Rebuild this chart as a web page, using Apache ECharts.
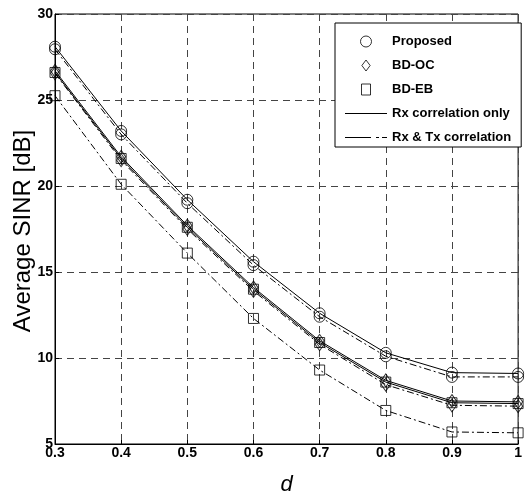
<!DOCTYPE html>
<html>
<head>
<meta charset="utf-8">
<script src="https://cdn.jsdelivr.net/npm/echarts@6/dist/echarts.min.js"></script>
<style>
  html, body { margin: 0; padding: 0; background: #fff; }
  #chart { width: 525px; height: 501px; }
</style>
</head>
<body>
<div id="chart"></div>
<script>
// d values on the x axis
var dValues = [0.3, 0.4, 0.5, 0.6, 0.7, 0.8, 0.9, 1.0];
// average SINR [dB]
var proposedRx   = [28.1, 23.2, 19.2, 15.6, 12.6, 10.3, 9.15, 9.1];
var proposedRxTx = [27.95, 23.0, 19.0, 15.4, 12.4, 10.1, 8.9, 8.9];
var bdocRx       = [26.7, 21.7, 17.7, 14.1, 11.0, 8.7, 7.5, 7.45];
var bdocRxTx     = [26.55, 21.5, 17.5, 13.9, 10.8, 8.45, 7.25, 7.2];
var bdebRx       = [26.6, 21.6, 17.6, 14.0, 10.9, 8.6, 7.4, 7.35];
var bdebRxTx     = [25.25, 20.1, 16.1, 12.3, 9.3, 6.95, 5.7, 5.65];
var yTicks = [5, 10, 15, 20, 25, 30];

function pairs(ys) {
    return dValues.map(function (x, i) { return [x, ys[i]]; });
}

var font = "'Liberation Sans', Arial, sans-serif";
var dashDot = [7, 3, 2, 3];

function lineSeries(name, ys, dashed) {
    return {
        name: name,
        type: 'line',
        data: pairs(ys),
        symbol: 'none',
        itemStyle: { color: '#000' },
        lineStyle: { color: '#000', width: 1, type: dashed ? dashDot : 'solid' },
        z: 2
    };
}

function markerSeries(name, symbol, size, list) {
    var data = [];
    list.forEach(function (ys) { data = data.concat(pairs(ys)); });
    return {
        name: name,
        type: 'scatter',
        data: data,
        symbol: symbol,
        symbolSize: size,
        itemStyle: { color: 'rgba(255,255,255,0)', borderColor: '#000', borderWidth: 1 },
        z: 3
    };
}

var hollow = { color: 'rgba(255,255,255,0)', borderColor: '#000', borderWidth: 1 };
var solidInk = { color: '#000', borderWidth: 0 };

var chart = echarts.init(document.getElementById('chart'));

var option = {
    animation: false,
    backgroundColor: '#fff',
    grid: {
        left: 55, right: 4, top: 14, bottom: 51,
        show: true, borderColor: '#000', borderWidth: 1
    },
    legend: {
        orient: 'vertical',
        left: 335, top: 23,
        padding: [12, 10, 3, 10],
        itemGap: 11,
        itemWidth: 42,
        itemHeight: 11,
        backgroundColor: '#fff',
        borderColor: '#000',
        borderWidth: 1,
        borderRadius: 0,
        textStyle: { fontFamily: font, fontSize: 13, fontWeight: 'bold', color: '#000' },
        data: [
            { name: 'Proposed', icon: 'circle', itemStyle: hollow },
            { name: 'BD-OC', icon: 'path://M4.5,0L9,6L4.5,12L0,6Z', itemStyle: hollow },
            { name: 'BD-EB', icon: 'path://M0,0h9v11h-9z', itemStyle: hollow },
            { name: 'Rx correlation only', icon: 'path://M0,0h42v1h-42z', itemStyle: solidInk },
            { name: 'Rx & Tx correlation', icon: 'path://M0,0h26v1h-26zM31,0h3v1h-3zM37,0h5v1h-5z', itemStyle: solidInk }
        ]
    },
    xAxis: {
        type: 'value',
        min: 0.3, max: 1.0, interval: 0.1,
        name: 'd',
        nameLocation: 'middle',
        nameGap: 30,
        nameTextStyle: { fontFamily: font, fontSize: 22, fontStyle: 'italic', color: '#000' },
        axisLine: { lineStyle: { color: '#000', width: 1 } },
        axisTick: { inside: true, length: 4, lineStyle: { color: '#000' } },
        axisLabel: {
            margin: 2,
            fontFamily: font, fontSize: 14, fontWeight: 'bold', color: '#000',
            formatter: function (v) { return String(Math.round(v * 10) / 10); }
        },
        splitLine: { show: true, lineStyle: { color: '#444', type: [7, 5], width: 1 } }
    },
    yAxis: {
        type: 'value',
        min: yTicks[0], max: yTicks[yTicks.length - 1], interval: 5,
        axisLine: { show: true, lineStyle: { color: '#000', width: 1 } },
        axisTick: { show: true, inside: true, length: 4, lineStyle: { color: '#000' } },
        axisLabel: {
            margin: 2,
            fontFamily: font, fontSize: 14, fontWeight: 'bold', color: '#000'
        },
        splitLine: { show: true, lineStyle: { color: '#444', type: [7, 5], width: 1 } }
    },
    graphic: [{
        type: 'text',
        x: 23, y: 231,
        rotation: Math.PI / 2,
        style: {
            text: 'Average SINR [dB]',
            fontFamily: font, fontSize: 24, fill: '#000',
            align: 'center', verticalAlign: 'middle'
        }
    }],
    series: [
        lineSeries('Rx correlation only', proposedRx, false),
        lineSeries('Rx & Tx correlation', proposedRxTx, true),
        lineSeries('Rx correlation only', bdocRx, false),
        lineSeries('Rx & Tx correlation', bdocRxTx, true),
        lineSeries('Rx correlation only', bdebRx, false),
        lineSeries('Rx & Tx correlation', bdebRxTx, true),
        markerSeries('Proposed', 'circle', 11, [proposedRx, proposedRxTx]),
        markerSeries('BD-OC', 'diamond', [9, 13], [bdocRx, bdocRxTx]),
        markerSeries('BD-EB', 'rect', 10, [bdebRx, bdebRxTx])
    ]
};

chart.setOption(option);
</script>
</body>
</html>
